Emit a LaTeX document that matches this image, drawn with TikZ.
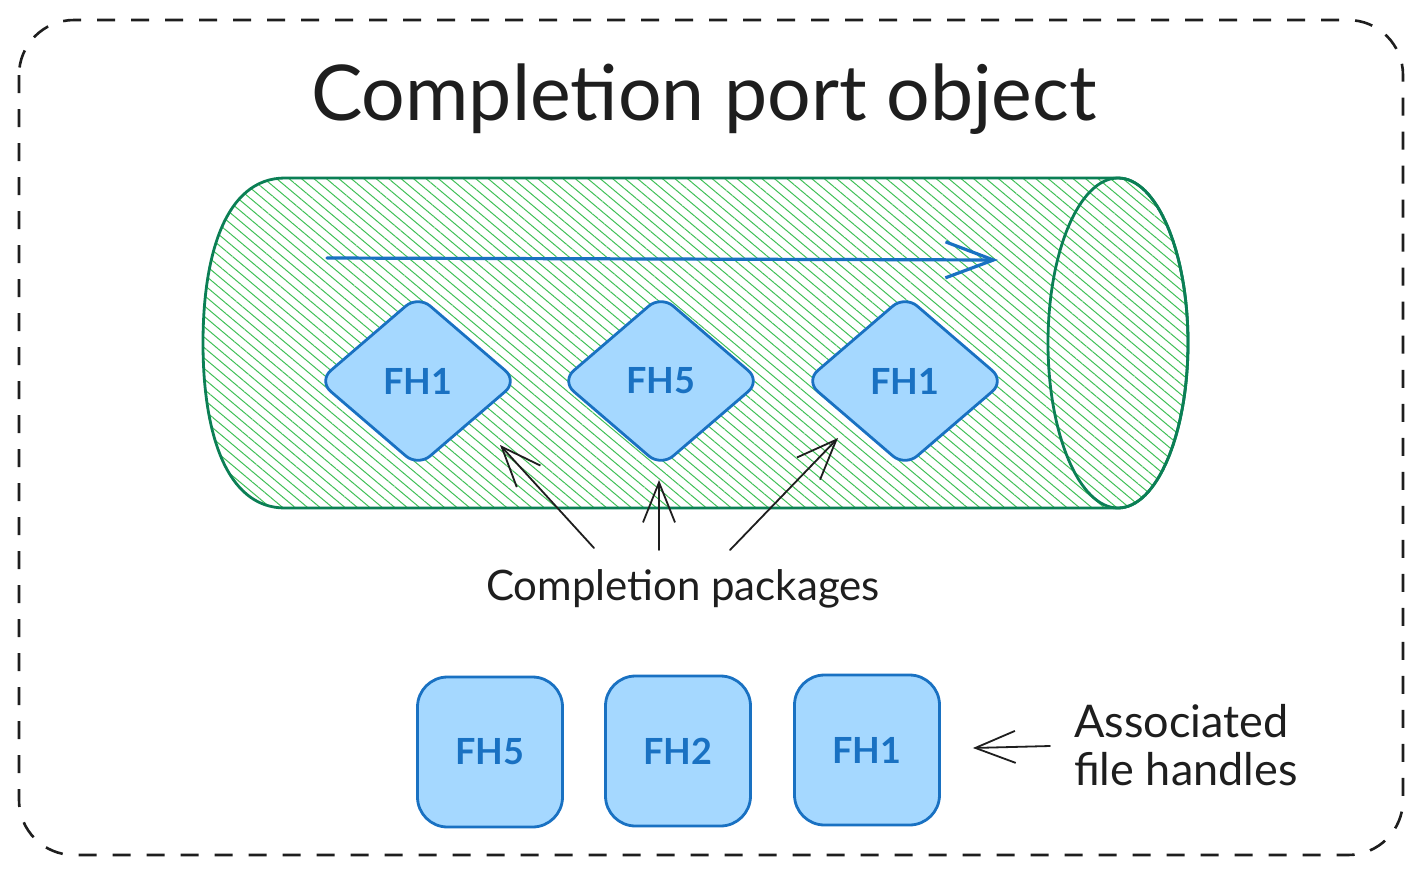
\documentclass[tikz,border=0pt]{standalone}
\usepackage{fontspec}
\setmainfont{Lato}
\usetikzlibrary{arrows.meta,patterns.meta,shapes.geometric,calc}
\definecolor{ink}{HTML}{1E1E1E}
\definecolor{blueS}{HTML}{1971C2}
\definecolor{blueF}{HTML}{A5D8FF}
\definecolor{greenS}{HTML}{0B7F55}
\definecolor{greenH}{HTML}{40C057}
\begin{document}
\begin{tikzpicture}[x=1pt,y=-1pt,
  frame/.style={draw=ink,line width=2.6pt,dash pattern=on 18pt off 16pt,rounded corners=55pt},
  titletext/.style={text=ink,font=\fontsize{77}{88}\selectfont,anchor=base,inner sep=0pt},
  labeltext/.style={text=ink,font=\fontsize{42}{48}\selectfont,inner sep=0pt},
  sidetext/.style={text=ink,font=\fontsize{45}{48}\selectfont,inner sep=0pt},
  packet/.style={shape=diamond,draw=blueS,fill=blueF,line width=2.8pt,
    minimum width=200pt,minimum height=172pt,rounded corners=16pt,
    text=blueS,font=\fontsize{36}{40}\selectfont\bfseries,inner sep=0pt},
  handle/.style={shape=rectangle,draw=blueS,fill=blueF,line width=2.8pt,
    minimum width=145pt,minimum height=150pt,rounded corners=30pt,
    text=blueS,font=\fontsize{36}{40}\selectfont\bfseries,inner sep=0pt},
  blackarrow/.style={draw=ink,line width=1.8pt,line cap=round,
    -{Straight Barb[length=40pt,width=32pt,line width=1.8pt]}},
  bluearrow/.style={draw=blueS,line width=3.2pt,line cap=round,
    -{Straight Barb[length=48pt,width=36pt,line width=3.2pt]}},
  tubefill/.style={pattern={Lines[angle=-40,distance=8pt,line width=1pt]},pattern color=greenH},
  tubeline/.style={draw=greenS,line width=2.8pt}
]
\useasboundingbox (0,0) rectangle (1422,876);
\fill[white] (0,0) rectangle (1422,876);

% outer dashed frame
\draw[frame] (19,20) rectangle (1403,855);

% title
\node[titletext] (title) at (704,120) {Completion port object};

% tube (cylinder)
\path[tubefill] (285,178) -- (1118,178)
  arc[start angle=-90,end angle=90,x radius=70,y radius=165]
  -- (285,508) .. controls (225,508) and (203,430) .. (203,343)
  .. controls (203,256) and (225,178) .. (285,178) -- cycle;
\draw[tubeline] (285,178) -- (1118,178)
  arc[start angle=-90,end angle=90,x radius=70,y radius=165]
  -- (285,508) .. controls (225,508) and (203,430) .. (203,343)
  .. controls (203,256) and (225,178) .. (285,178) -- cycle;
\draw[tubeline] (1118,343) ellipse[x radius=70,y radius=165];

% flow arrow inside the tube
\coordinate (flowstart) at (327,258);
\coordinate (flowend) at (998,260);
\draw[bluearrow] (flowstart) -- (flowend);

% completion packets
\node[packet] (d1) at (418,381) {FH1};
\node[packet] (d2) at (661,381) {FH5};
\node[packet] (d3) at (905,381) {FH1};

% label and its arrows
\node[labeltext,anchor=base] (lbl) at (683,600) {Completion packages};
\draw[blackarrow] ($(lbl.base)+(-89,-52)$) -- ($(d1)+(82,64)$);
\draw[blackarrow] ($(lbl.base)+(-24,-50)$) -- ($(d2)+(-2,99)$);
\draw[blackarrow] ($(lbl.base)+(47,-50)$) -- ($(d3)+(-67,57)$);

% associated file handles
\node[handle] (h1) at (490,752) {FH5};
\node[handle] (h2) at (678,751) {FH2};
\node[handle] (h3) at (867,750) {FH1};

\node[sidetext,align=left,anchor=west] (assoc) at (1074,745) {Associated\\file handles};
\draw[blackarrow] ($(assoc.west)+(-24,1)$) -- ($(h3.east)+(32,-2)$);
\end{tikzpicture}
\end{document}
